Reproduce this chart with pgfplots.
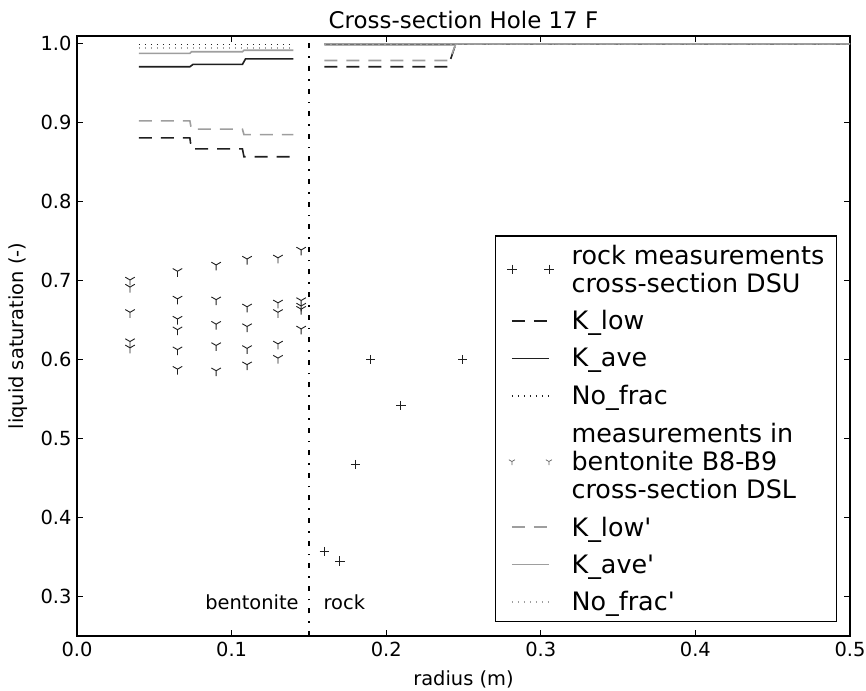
\documentclass[border=0pt]{standalone}
\usepackage{pgfplots}
\pgfplotsset{compat=1.18}
\usetikzlibrary{plotmarks}
\usepackage{fontspec}
\setmainfont{DejaVu Sans}
\definecolor{lgray}{gray}{0.62}
\definecolor{dblack}{gray}{0.12}
\pgfplotsset{
  lineleg/.style={legend image code/.code={\draw[##1] (0bp,0bp) -- (37bp,0bp);}},
  plusleg/.style={legend image code/.code={\path[draw=dblack, line width=0.8bp] plot[mark=+, mark size=4.7bp, only marks] coordinates {(0bp,0bp) (37bp,0bp)};}},
  yleg/.style={legend image code/.code={\path[draw=dblack!70, line width=0.7bp] plot[mark=Mercedes star flipped, mark size=3.5bp, only marks] coordinates {(0bp,0bp) (37bp,0bp)};}},
}
\begin{document}
\begin{tikzpicture}
\begin{axis}[
  name=ax,
  scale only axis,
  width=773bp, height=600bp,
  xmin=0, xmax=0.5, ymin=0.25, ymax=1.01,
  xtick={0,0.1,0.2,0.3,0.4,0.5},
  ytick={0.3,0.4,0.5,0.6,0.7,0.8,0.9,1.0},
  xticklabels={0.0,0.1,0.2,0.3,0.4,0.5},
  yticklabels={0.3,0.4,0.5,0.6,0.7,0.8,0.9,1.0},
  tick align=inside, xtick pos=both, ytick pos=both,
  major tick length=6bp,
  minor tick num=0,
  axis line style={line width=1.3bp},
  every tick/.style={line width=1bp, black},
  /pgf/number format/assume math mode=true,
  tick label style={font=\fontsize{19.5}{23}\selectfont},
  xticklabel style={yshift=-3bp},
  yticklabel style={xshift=-2bp},
  title={Cross-section Hole 17 F},
  every axis title/.style={at={(axis description cs:0.5,1.0133)}, anchor=base, font=\fontsize{23}{27}\selectfont},
  xlabel={radius (m)},
  ylabel={liquid saturation (-)},
  every axis x label/.style={at={(axis description cs:0.5,-0.072)}, anchor=center, font=\fontsize{19.5}{23}\selectfont},
  every axis y label/.style={at={(axis description cs:-0.0763,0.5)}, rotate=90, anchor=center, font=\fontsize{19.5}{23}\selectfont},
  unbounded coords=jump,
  legend cell align=left,
  legend style={at={(axis description cs:0.983,0.0233)}, anchor=south east,
    font=\fontsize{25.5}{28}\selectfont, cells={align=left},
    nodes={inner xsep=0bp, inner ysep=0bp},
    draw=black, line width=1.2bp, inner xsep=12bp, inner ysep=9bp, row sep=17bp},
  /tikz/every odd column/.append style={column sep=18bp},
]
% rock measurements
\addplot[only marks, mark=+, mark size=4.7bp, draw=dblack, line width=0.8bp, plusleg]
  coordinates {(0.160,0.357) (0.170,0.345) (0.180,0.467) (0.190,0.600) (0.2095,0.542) (0.2495,0.600)};
\addlegendentry{rock measurements\\cross-section DSU}
% K_low
\addplot[dblack, line width=1.6bp, dash pattern=on 13bp off 9bp, lineleg]
  coordinates {(0.04,0.881) (0.073,0.881) (0.074,0.867) (0.107,0.867) (0.108,0.857) (0.14,0.857) (0.15,nan) (0.16,0.971) (0.240,0.971) (0.245,1.0) (0.5,1.0)};
\addlegendentry{K\_low}
% K_ave
\addplot[dblack, line width=1.6bp, lineleg]
  coordinates {(0.04,0.971) (0.073,0.971) (0.075,0.974) (0.107,0.974) (0.109,0.981) (0.14,0.981) (0.15,nan) (0.16,0.999) (0.244,0.999) (0.246,1.0) (0.5,1.0)};
\addlegendentry{K\_ave}
% No_frac
\addplot[dblack, line width=1.4bp, dash pattern=on 1.5bp off 4.5bp, lineleg]
  coordinates {(0.04,0.9995) (0.14,0.9995) (0.15,nan) (0.16,1.0) (0.5,1.0)};
\addlegendentry{No\_frac}
% bentonite measurements
\addplot[only marks, mark=Mercedes star flipped, mark size=5.5bp, draw=dblack, line width=0.9bp, yleg]
  coordinates {
  (0.0343,0.701) (0.0343,0.692) (0.0343,0.660) (0.0343,0.623) (0.0343,0.615)
  (0.065,0.712) (0.065,0.677) (0.065,0.6515) (0.065,0.638) (0.065,0.6127) (0.065,0.588)
  (0.090,0.720) (0.090,0.676) (0.090,0.645) (0.090,0.618) (0.090,0.586)
  (0.110,0.7275) (0.110,0.667) (0.110,0.642) (0.110,0.6143) (0.110,0.5937)
  (0.130,0.729) (0.130,0.672) (0.130,0.660) (0.130,0.620) (0.130,0.602)
  (0.145,0.739) (0.145,0.675) (0.145,0.668) (0.145,0.664) (0.145,0.639)};
\addlegendentry{measurements in\\bentonite B8-B9\\cross-section DSL}
% K_low'
\addplot[lgray, line width=1.6bp, dash pattern=on 13bp off 9bp, lineleg]
  coordinates {(0.04,0.9025) (0.073,0.9025) (0.074,0.892) (0.107,0.892) (0.108,0.885) (0.14,0.885) (0.15,nan) (0.16,0.979) (0.241,0.979) (0.245,1.0) (0.5,1.0)};
\addlegendentry{K\_low\textquotesingle}
% K_ave'
\addplot[lgray, line width=1.6bp, lineleg]
  coordinates {(0.04,0.988) (0.073,0.988) (0.074,0.990) (0.107,0.990) (0.108,0.992) (0.14,0.992) (0.15,nan) (0.16,1.0) (0.5,1.0)};
\addlegendentry{K\_ave\textquotesingle}
% No_frac'
\addplot[lgray, line width=1.4bp, dash pattern=on 1.5bp off 4.5bp, lineleg]
  coordinates {(0.04,0.995) (0.14,0.995) (0.15,nan) (0.16,1.0) (0.5,1.0)};
\addlegendentry{No\_frac\textquotesingle}
% separator
\addplot[black, line width=1.6bp, dash pattern=on 5bp off 8bp on 1.6bp off 8bp, forget plot]
  coordinates {(0.15,0.25) (0.15,1.01)};
\node[anchor=base east, font=\fontsize{19.5}{23}\selectfont, inner sep=0pt] at (axis cs:0.1435,0.2835) {bentonite};
\node[anchor=base west, font=\fontsize{19.5}{23}\selectfont, inner sep=0pt] at (axis cs:0.1594,0.2835) {rock};
\end{axis}
\pgfresetboundingbox
\path (ax.south west) ++(-77bp,-55bp) coordinate (bl);
\path (ax.north east) ++(16bp,36bp) coordinate (tr);
\useasboundingbox (bl) rectangle (tr);
\end{tikzpicture}
\end{document}
